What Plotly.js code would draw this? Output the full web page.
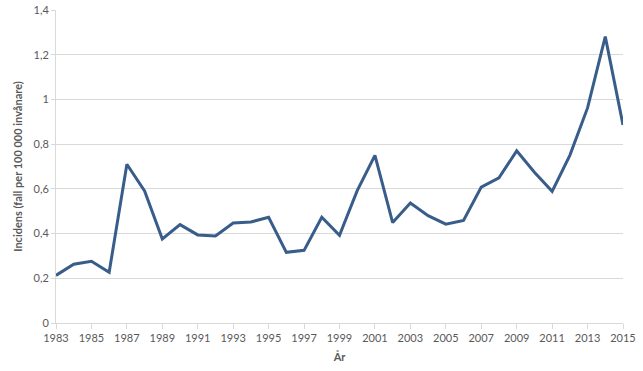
<!DOCTYPE html>
<html><head><meta charset="utf-8">
<script src="https://cdn.plot.ly/plotly-3.0.1.min.js"></script>
<style>html,body{margin:0;padding:0;background:#fff}#c{width:643px;height:371px}</style>
</head><body><div id="c"></div>
<script>
var years = [1983,1984,1985,1986,1987,1988,1989,1990,1991,1992,1993,1994,1995,1996,1997,1998,1999,2000,2001,2002,2003,2004,2005,2006,2007,2008,2009,2010,2011,2012,2013,2014,2015];
var incidens = [0.213,0.263,0.276,0.227,0.710,0.591,0.376,0.440,0.394,0.389,0.447,0.452,0.473,0.316,0.325,0.473,0.392,0.592,0.750,0.449,0.537,0.480,0.442,0.459,0.608,0.649,0.770,0.674,0.589,0.750,0.962,1.281,0.886];
var xTicks = [1983,1985,1987,1989,1991,1993,1995,1997,1999,2001,2003,2005,2007,2009,2011,2013,2015];
var yTicks = [0,0.2,0.4,0.6,0.8,1,1.2,1.4];

var fontFam = 'Lato, "Open Sans", sans-serif';
Plotly.newPlot('c', [{
  x: years, y: incidens, type: 'scatter', mode: 'lines',
  line: {color: '#385d8a', width: 3}, hoverinfo: 'none'
}], {
  width: 643, height: 371,
  margin: {l: 56, r: 20, t: 10, b: 48},
  paper_bgcolor: '#fff', plot_bgcolor: '#fff',
  separators: ', ',
  showlegend: false,
  font: {family: fontFam, size: 11, color: '#595959'},
  xaxis: {
    range: [1983, 2015], tickvals: xTicks, ticktext: xTicks.map(String),
    showgrid: false, zeroline: false,
    showline: true, linecolor: '#d9d9d9', linewidth: 1,
    ticks: 'outside', ticklen: 5, tickcolor: '#d9d9d9',
    tickfont: {family: fontFam, size: 11, color: '#595959'},
    title: {text: '<b>År</b>', font: {family: fontFam, size: 11, color: '#595959'}, standoff: 10}
  },
  yaxis: {
    range: [0, 1.4], tickvals: yTicks,
    showgrid: true, gridcolor: '#d9d9d9', gridwidth: 1, zeroline: false,
    showline: true, linecolor: '#d9d9d9', linewidth: 1,
    ticks: 'outside', ticklen: 4, tickcolor: '#d9d9d9',
    tickfont: {family: fontFam, size: 11, color: '#595959'},
    title: {text: '<b>Incidens (fall per 100 000 invånare)</b>', font: {family: fontFam, size: 11, color: '#595959'}, standoff: 8}
  }
}, {staticPlot: true, displayModeBar: false});
</script></body></html>
